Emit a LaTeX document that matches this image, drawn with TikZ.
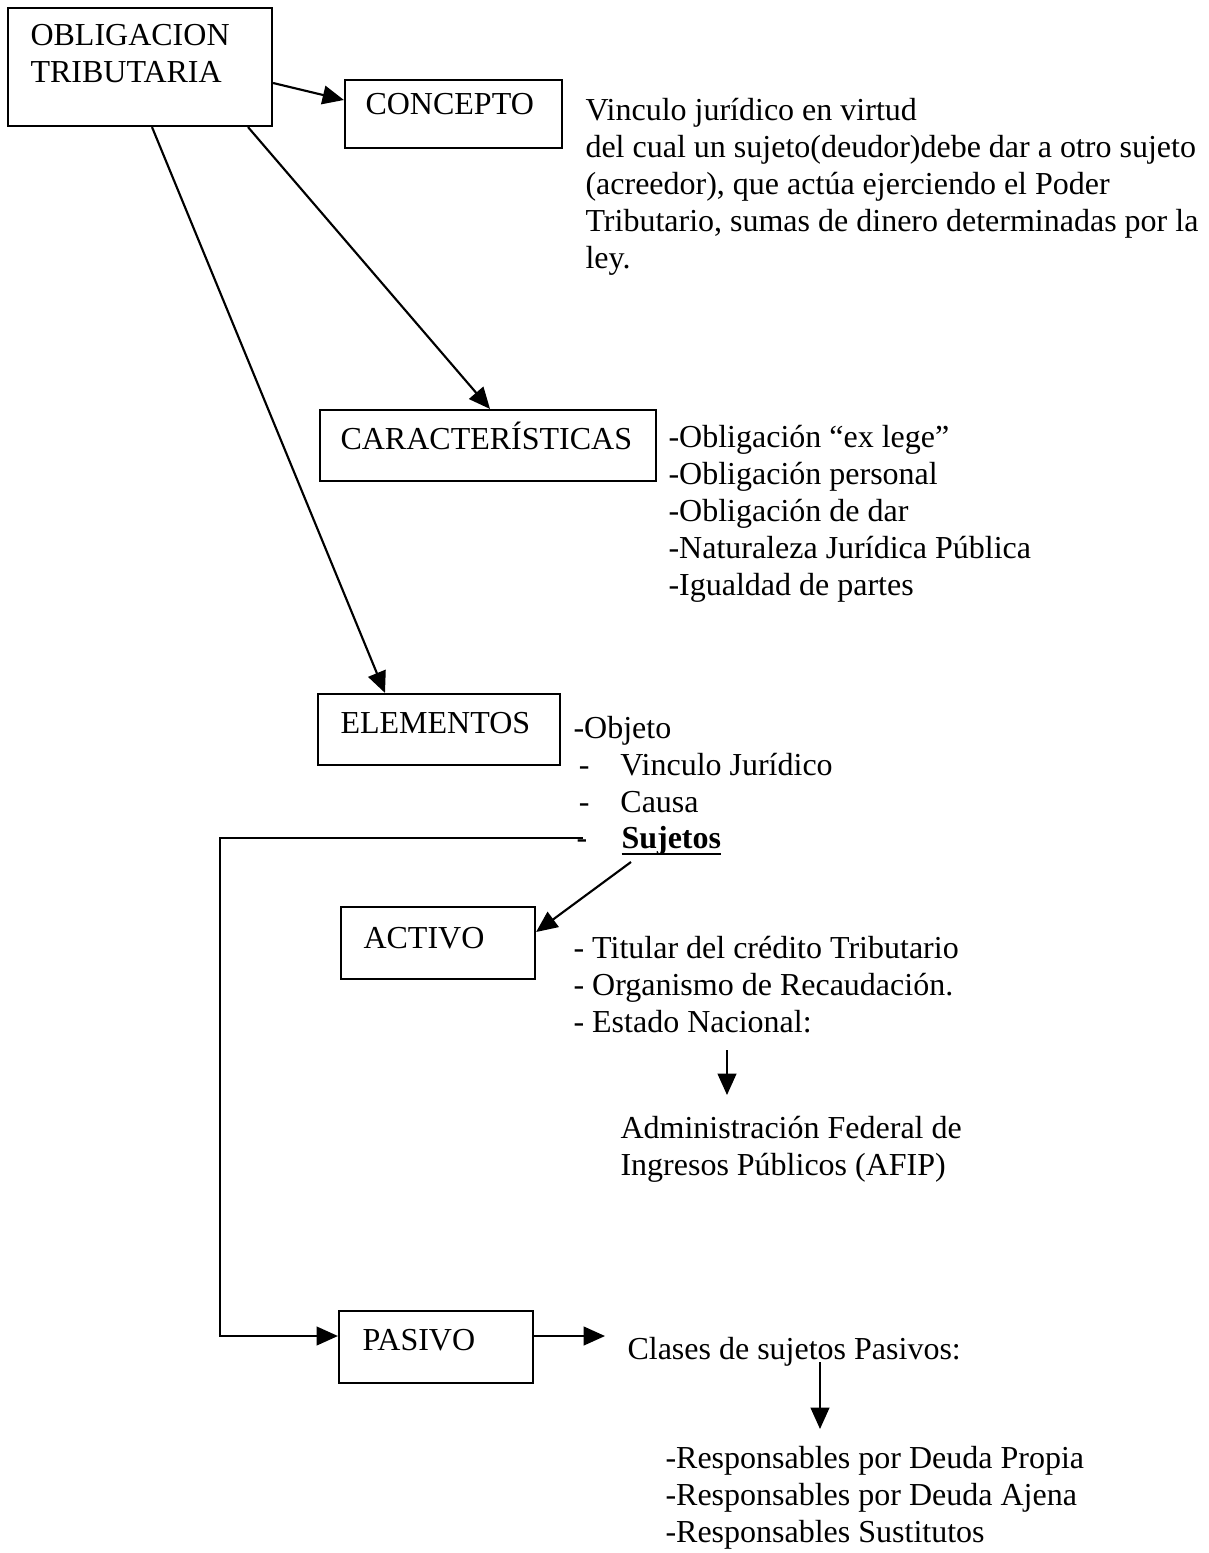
\documentclass[tikz,border=0pt]{standalone}
\usepackage{fontspec}
\setmainfont{Liberation Serif}
\usetikzlibrary{arrows.meta,calc}
\newcommand\pxu{0.375pt}
\newsavebox\ulbox
\newcommand\thickul[1]{\sbox\ulbox{#1}\rlap{\rule[-2.6pt]{\wd\ulbox}{0.75pt}}\usebox\ulbox}
\begin{document}
\begin{tikzpicture}[x=0.375pt,y=-0.375pt,
  box/.style={draw,line width=0.8pt,rectangle,inner sep=0pt},
  txt/.style={anchor=base west,inner sep=0pt,align=left,font=\fontsize{12}{13.8}\selectfont},
  arr/.style={line width=0.8pt,-{Triangle[length=8pt,width=7pt]}}]
\useasboundingbox (0,0) rectangle (1208,1553);

% boxes
\node[box,minimum width=264*\pxu,minimum height=118*\pxu] (obl) at (140,67) {};
\node[box,minimum width=217*\pxu,minimum height=68*\pxu] (conc) at (453.5,114) {};
\node[box,minimum width=336*\pxu,minimum height=71*\pxu] (car) at (488,445.5) {};
\node[box,minimum width=242*\pxu,minimum height=71*\pxu] (ele) at (439,729.5) {};
\node[box,minimum width=194*\pxu,minimum height=72*\pxu] (act) at (438,943) {};
\node[box,minimum width=194*\pxu,minimum height=72*\pxu] (pas) at (436,1347) {};

% box titles (multi-line nodes are placed by their last baseline)
\node[txt] (oblt) at (30,82) {OBLIGACION\\TRIBUTARIA};
\node[txt] (conct) at (365,114) {CONCEPTO};
\node[txt] (cart) at (340,449) {CARACTERÍSTICAS};
\node[txt] (elet) at (340,733) {ELEMENTOS};
\node[txt] (actt) at (363,948) {ACTIVO};
\node[txt] (past) at (362,1350) {PASIVO};

% descriptions
\node[txt] (concd) at (585,268) {Vinculo jurídico en virtud\\
  del cual un sujeto(deudor)debe dar a otro sujeto\\
  (acreedor), que actúa ejerciendo el Poder\\
  Tributario, sumas de dinero determinadas por la\\
  ley.};
\node[txt] (card) at (668,595) {-Obligación “ex lege”\\
  -Obligación personal\\
  -Obligación de dar\\
  -Naturaleza Jurídica Pública\\
  -Igualdad de partes};
\node[txt] (eled) at (573,812) {-Objeto\\
  \makebox[17.6pt][l]{\,-}Vinculo Jurídico\\
  \makebox[17.6pt][l]{\,-}Causa};
\node[txt] (sjdash) at (576,848) {-};
\node[txt] (suj) at (621,848) {\thickul{\textbf{Sujetos}}};
\node[txt] (actd) at (573,1032) {- Titular del crédito Tributario\\
  - Organismo de Recaudación.\\
  - Estado Nacional:};
\node[txt] (afip) at (620,1175) {Administración Federal de\\
  Ingresos Públicos (AFIP)};
\node[txt] (clases) at (627,1359) {Clases de sujetos Pasivos:};
\node[txt] (resp) at (665,1542) {-Responsables por Deuda Propia\\
  -Responsables por Deuda Ajena\\
  -Responsables Sustitutos};

% connectors
\draw[arr] ($(obl.east)+(0,16)$) -- ($(conc.west)+(0,-14)$);
\draw[arr] ($(obl.south)+(108,0)$) -- ($(car.north)+(2,0)$);
\draw[arr] ($(obl.south)+(12,0)$) -- ($(ele.north)+(-54,0)$);
\coordinate (sjL) at (583,838);
\coordinate (bend) at (220,838);
\draw[arr] (sjL) -- (bend) |- ($(pas.west)+(0,-11)$);
\coordinate (sjB) at (631,862);
\draw[arr] (sjB) -- ($(act.east)+(0,-11)$);
\coordinate (pasEnd) at (605,1336);
\draw[arr] ($(pas.east)+(0,-11)$) -- (pasEnd);
\coordinate (estA) at (727,1050);
\coordinate (estB) at (727,1095);
\draw[arr] (estA) -- (estB);
\coordinate (clA) at (820,1362);
\coordinate (clB) at (820,1429);
\draw[arr] (clA) -- (clB);
\end{tikzpicture}
\end{document}
